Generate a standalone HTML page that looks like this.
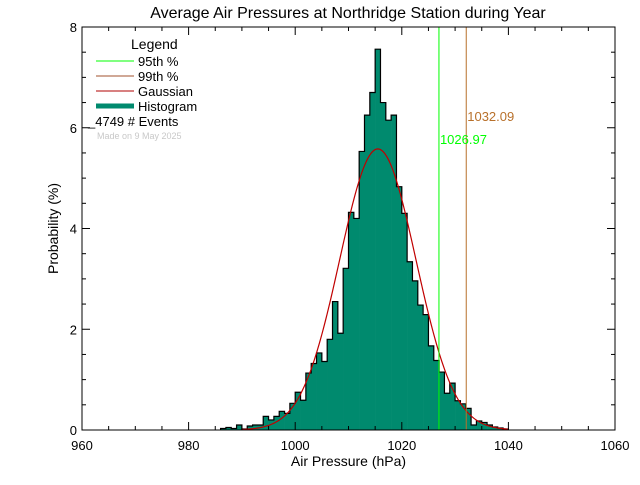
<!DOCTYPE html>
<html><head><meta charset="utf-8"><style>
body{margin:0;background:#fff}
svg text{font-family:"Liberation Sans",sans-serif}
</style></head><body>
<svg id="chart" width="640" height="480" xmlns="http://www.w3.org/2000/svg">
<rect width="640" height="480" fill="#fff"/>
<text x="348" y="18" font-size="16" text-anchor="middle">Average Air Pressures at Northridge Station during Year</text>
<g id="plot"></g>
<g>
<text x="131" y="49" font-size="14">Legend</text>
<line x1="96" y1="61" x2="134" y2="61" stroke="#00ff00"/>
<text x="138" y="66" font-size="13">95th %</text>
<line x1="96" y1="76" x2="134" y2="76" stroke="#a0522d"/>
<text x="138" y="81" font-size="13">99th %</text>
<line x1="96" y1="91" x2="134" y2="91" stroke="#b00000"/>
<text x="138" y="96" font-size="13">Gaussian</text>
<line x1="96" y1="106" x2="134" y2="106" stroke="#008a6e" stroke-width="5"/>
<text x="138" y="111" font-size="13">Histogram</text>
<text x="88" y="126" font-size="13">_4749  # Events</text>
<text x="97" y="139" font-size="9" fill="#c8c8c8">Made on 9 May 2025</text>
</g>
</svg>
<script>
const binStarts=[986,987,988,989,990,991,992,993,994,995,996,997,998,999,1000,1001,1002,1003,1004,1005,1006,1007,1008,1009,1010,1011,1012,1013,1014,1015,1016,1017,1018,1019,1020,1021,1022,1023,1024,1025,1026,1027,1028,1029,1030,1031,1032,1033,1034,1035,1036,1037,1038,1039];
const probs=[0.03,0.05,0.03,0.1,0.02,0.08,0.1,0.1,0.27,0.2,0.27,0.37,0.33,0.53,0.75,0.59,1.13,1.32,1.53,1.36,1.8,2.55,1.92,3.21,4.32,4.2,5.53,6.25,6.7,7.56,6.5,6.15,6.25,4.83,4.3,3.34,2.96,2.48,2.29,1.67,1.38,1.15,0.73,0.93,0.58,0.52,0.43,0.1,0.18,0.15,0.1,0.06,0.04,0.02];
const xTicks=[960,980,1000,1020,1040,1060];
const yTicks=[0,2,4,6,8];
const gaussMean=1015.5, gaussSigma=7.15, gaussPeak=5.58;
const p95=1026.97, p99=1032.09;

const NS="http://www.w3.org/2000/svg";
const L=82,R=615,T=27,B=430;
const xs=v=>L+(v-960)/(100)*(R-L);
const ys=v=>B-v/8*(B-T);
const g=document.getElementById('plot');
function mk(tag,attrs){const e=document.createElementNS(NS,tag);for(const k in attrs)e.setAttribute(k,attrs[k]);g.appendChild(e);return e;}

// histogram fill + outline
let d=`M${xs(binStarts[0])},${ys(0)}`;
binStarts.forEach((b,i)=>{d+=` L${xs(b)},${ys(probs[i])} L${xs(b+1)},${ys(probs[i])}`;});
d+=` L${xs(binStarts[binStarts.length-1]+1)},${ys(0)}`;
binStarts.forEach((b,i)=>{
  const r=mk('rect',{x:xs(b),y:ys(probs[i]),width:xs(b+1)-xs(b)+0.3,height:ys(0)-ys(probs[i]),fill:'#008a6e'});
  
  
});
const out=mk('path',{d:d,fill:'none',stroke:'#000','stroke-width':1.2});



// gaussian
let gd='';
for(let v=990;v<=1040;v+=0.25){const p=gaussPeak*Math.exp(-0.5*((v-gaussMean)/gaussSigma)**2);gd+=(gd?' L':'M')+xs(v)+','+ys(p);}
const gp=mk('path',{d:gd,fill:'none',stroke:'#c00000','stroke-width':1.2});



// percentile lines
const l95=mk('line',{x1:xs(p95),x2:xs(p95),y1:T,y2:B,stroke:'#00ff00','stroke-width':1});


const l99=mk('line',{x1:xs(p99),x2:xs(p99),y1:T,y2:B,stroke:'#b8702a','stroke-width':1});


const t95=mk('text',{x:xs(p95)+1,y:144,'font-size':13,fill:'#00ff00'});t95.textContent=p95.toFixed(2);


const t99=mk('text',{x:xs(p99)+1,y:121,'font-size':13,fill:'#b8702a'});t99.textContent=p99.toFixed(2);



// axes box
const box=mk('rect',{x:L,y:T,width:R-L,height:B-T,fill:'none',stroke:'#000','stroke-width':1});


// x ticks
for(let v=960;v<=1060;v+=5){const big=v%20===0;
  mk('line',{x1:xs(v),x2:xs(v),y1:B,y2:B-(big?8:4),stroke:'#000'});
  mk('line',{x1:xs(v),x2:xs(v),y1:T,y2:T+(big?8:4),stroke:'#000'});}
xTicks.forEach(v=>{const t=mk('text',{x:xs(v),y:B+20,'font-size':13,'text-anchor':'middle'});t.textContent=v;
  
  });
for(let v=0;v<=8;v+=0.5){const big=v%2===0;
  mk('line',{x1:L,x2:L+(big?8:4),y1:ys(v),y2:ys(v),stroke:'#000'});
  mk('line',{x1:R,x2:R-(big?8:4),y1:ys(v),y2:ys(v),stroke:'#000'});}
yTicks.forEach(v=>{const t=mk('text',{x:L-5,y:ys(v)+5,'font-size':13,'text-anchor':'end'});t.textContent=v;
  
  });
const xt=mk('text',{x:(L+R)/2,y:466,'font-size':14,'text-anchor':'middle'});xt.textContent='Air Pressure (hPa)';


const yt=mk('text',{x:58,y:(T+B)/2,'font-size':14,'text-anchor':'middle',transform:`rotate(-90 58 ${(T+B)/2})`});yt.textContent='Probability (%)';


</script>
</body></html>
